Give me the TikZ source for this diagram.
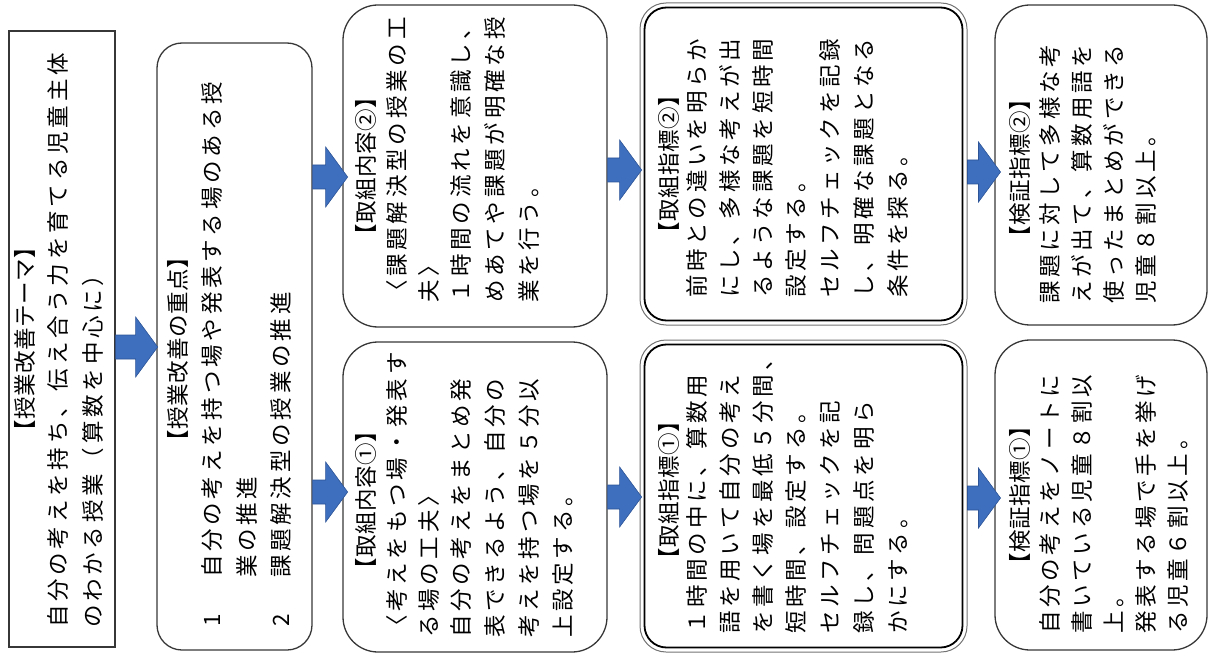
\documentclass[tikz,border=0pt]{standalone}
\usepackage{fontspec}
\setmainfont{Noto Sans CJK JP}
\definecolor{arrowblue}{RGB}{62,110,190}
\definecolor{arrowdark}{RGB}{44,84,150}
\definecolor{boxline}{RGB}{55,55,55}
\newlength\cw
\setlength\cw{26.3pt}
\def\glend{glend-marker}
\newcommand\gl[1]{\glloop#1\glend}
\def\glloop#1{\ifx\glend#1\else\makebox[\cw]{#1}\expandafter\glloop\fi}
\tikzset{
  tl/.style={rotate=90, anchor=west, inner sep=0pt, text height=0.88em, text depth=0.12em,
    font=\fontsize{22.5}{22.5}\selectfont},
  tt/.style={tl, anchor=center},
  sqbox/.style={draw=boxline, line width=1.3pt, inner sep=0pt},
  rbox/.style={draw=boxline, line width=1.3pt, inner sep=0pt, rounded corners=#1},
  pics/barrow/.style={code={
    \fill[arrowblue, draw=arrowdark, line width=0.6pt]
      (0,-12) -- (#1-22,-12) -- (#1-22,-30) -- (#1,0) -- (#1-22,30) -- (#1-22,12) -- (0,12) -- cycle;}}
}
\newcommand\tline[4]{\node[tl] (#1) at (#2,#3) {\gl{#4}};}
\newcommand\ttitle[4]{\node[tt] (#1) at (#2,#3) {\setlength\cw{23pt}\gl{#4}};}
\begin{document}
\begin{tikzpicture}[x=1pt,y=-1pt]
\useasboundingbox (0,0) rectangle (1210,655);
% boxes
\node[sqbox, minimum width=106pt, minimum height=616pt] (A) at (62,339) {};
\node[rbox=25pt, minimum width=155pt, minimum height=607pt] (B) at (234.5,346.5) {};
\node[rbox=35pt, minimum width=264pt, minimum height=322pt] (C2) at (475,166) {};
\node[rbox=35pt, minimum width=264pt, minimum height=310pt] (C1) at (475,497) {};
\node[draw=boxline!70, line width=1pt, rounded corners=26pt, minimum width=327pt, minimum height=322pt] (D2) at (803.5,164) {};
\node[draw=black, line width=1.8pt, rounded corners=22pt, minimum width=318pt, minimum height=313pt] (D2i) at (803.5,164) {};
\node[draw=boxline!70, line width=1pt, rounded corners=26pt, minimum width=327pt, minimum height=312pt] (D1) at (803.5,496) {};
\node[draw=black, line width=1.8pt, rounded corners=22pt, minimum width=318pt, minimum height=303pt] (D1i) at (803.5,496) {};
\node[rbox=35pt, minimum width=212pt, minimum height=320pt] (E2) at (1101,165) {};
\node[rbox=35pt, minimum width=212pt, minimum height=310pt] (E1) at (1101,495) {};
% arrows
\pic (ar1) at (A.east |- 0,347) {barrow=42};
\pic (ar2) at (B.east |- 0,177) {barrow=35};
\pic (ar3) at (B.east |- 0,492) {barrow=35};
\pic (ar4) at (C2.east |- 0,170) {barrow=34};
\pic (ar5) at (C1.east |- 0,497) {barrow=34};
\pic (ar6) at (D2.east |- 0,172) {barrow=33};
\pic (ar7) at (D1.east |- 0,498) {barrow=33};
% A
\ttitle{a-t}{30}{339}{【授業改善テーマ】}
\tline{a-1}{63}{630}{自分の考えを持ち、伝え合う力を育てる児童主体}
\tline{a-2}{98}{630}{のわかる授業（算数を中心に）}
% B
\ttitle{b-t}{183}{349}{【授業改善の重点】}
\node[tt] (b-n1) at (217,620) {1};
\tline{b-1}{217}{580}{自分の考えを持つ場や発表する場のある授}
\tline{b-2}{252}{580}{業の推進}
\node[tt] (b-n2) at (286,620) {2};
\tline{b-3}{286}{580}{課題解決型の授業の推進}
% C2
\ttitle{c2-t}{371}{166}{【取組内容②】}
\tline{c2-1}{402}{305}{〈課題解決型の授業の工}
\tline{c2-2}{434}{305}{夫〉}
\tline{c2-3}{466}{305}{１時間の流れを意識し、}
\tline{c2-4}{500}{305}{めあてや課題が明確な授}
\tline{c2-5}{534}{305}{業を行う。}
% C1
\ttitle{c1-t}{371}{500}{【取組内容①】}
\tline{c1-1}{402}{640}{〈考えをもつ場・発表す}
\tline{c1-2}{434}{640}{る場の工夫〉}
\tline{c1-3}{466}{640}{自分の考えをまとめ発}
\tline{c1-4}{500}{640}{表できるよう、自分の}
\tline{c1-5}{534}{640}{考えを持つ場を５分以}
\tline{c1-6}{568}{640}{上設定する。}
% D2
\ttitle{d2-t}{674}{164}{【取組指標②】}
\tline{d2-1}{702}{300}{前時との違いを明らか}
\tline{d2-2}{735}{300}{にし、多様な考えが出}
\tline{d2-3}{768}{300}{るような課題を短時間}
\tline{d2-4}{801}{300}{設定する。}
\tline{d2-5}{835}{300}{セルフチェックを記録}
\tline{d2-6}{869}{300}{し、明確な課題となる}
\tline{d2-7}{903}{300}{条件を探る。}
% D1
\ttitle{d1-t}{674}{490}{【取組指標①】}
\tline{d1-1}{702}{636}{１時間の中に、算数用}
\tline{d1-2}{735}{636}{語を用いて自分の考え}
\tline{d1-3}{768}{636}{を書く場を最低５分間、}
\tline{d1-4}{801}{636}{短時間、設定する。}
\tline{d1-5}{835}{636}{セルフチェックを記}
\tline{d1-6}{869}{636}{録し、問題点を明ら}
\tline{d1-7}{903}{636}{かにする。}
% E2
\ttitle{e2-t}{1025}{168}{【検証指標②】}
\tline{e2-1}{1055}{306}{課題に対して多様な考}
\tline{e2-2}{1087}{306}{えが出て、算数用語を}
\tline{e2-3}{1119}{306}{使ったまとめができる}
\tline{e2-4}{1151}{306}{児童８割以上。}
% E1
\ttitle{e1-t}{1025}{495}{【検証指標①】}
\tline{e1-1}{1055}{636}{自分の考えをノートに}
\tline{e1-2}{1087}{636}{書いている児童８割以}
\tline{e1-3}{1119}{636}{上。}
\tline{e1-4}{1151}{636}{発表する場で手を挙げ}
\tline{e1-5}{1183}{636}{る児童６割以上。}
\end{tikzpicture}
\end{document}
